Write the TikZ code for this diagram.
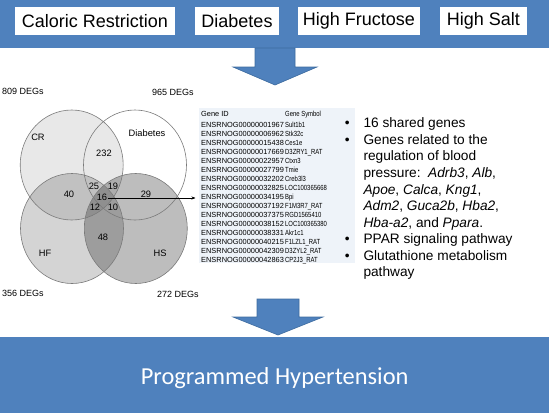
\documentclass[tikz,border=0pt]{standalone}
\usepackage{fontspec}
\setmainfont{Liberation Sans}
\newfontfamily\carlito{Carlito}
\usetikzlibrary{arrows.meta}
\definecolor{pptblue}{HTML}{4F81BD}
\definecolor{pptedge}{HTML}{3D6B9F}
\definecolor{tablebg}{HTML}{EEF3F9}
\definecolor{venn}{HTML}{7A7A7A}
\tikzset{
  banner/.style={fill=pptblue, inner sep=0, minimum width=549, minimum height=48},
  topbox/.style={fill=white, inner sep=0, minimum height=28, font=\fontsize{18}{20}\selectfont},
  blockarrow/.style={fill=pptblue, draw=pptedge, line width=0.6pt, line join=miter},
  vennline/.style={draw=venn, line width=0.6pt},
  vennnum/.style={inner sep=0, font=\fontsize{9.3}{10}\selectfont},
  deglabel/.style={inner sep=0, anchor=west, font=\fontsize{9}{10}\selectfont},
  idtext/.style={inner sep=0, anchor=base west, font=\fontsize{7.4}{8}\selectfont},
  bullettext/.style={inner sep=0, anchor=base west, font=\fontsize{13.7}{15}\selectfont},
  bulletdot/.style={inner sep=0, anchor=base, font=\fontsize{13.7}{15}\selectfont},
}
\begin{document}
\begin{tikzpicture}[x=1pt,y=-1pt]
\useasboundingbox (0,0) rectangle (550,413);

% top banner
\node[banner] (topbanner) at (274.5,24) {};
\node[topbox, minimum width=160] (cr) at (95,21) {Caloric Restriction};
\node[topbox, minimum width=84] (dia) at (237,21) {Diabetes};
\node[topbox, minimum width=122] (hfb) at (359,21) {High Fructose};
\node[topbox, minimum width=87] (hsb) at (483.5,21) {High Salt};

% top block arrow
\draw[blockarrow] (255,48) -- (255,67) -- (233,67) -- (275,85) -- (317,67) -- (295,67) -- (295,48) -- cycle;

% Venn diagram
\fill[black, fill opacity=0.09] (71.7,165) ellipse [x radius=51.5pt, y radius=55pt];
\fill[black, fill opacity=0.17] (72,228.5) ellipse [x radius=51.5pt, y radius=55pt];
\fill[black, fill opacity=0.26] (135.8,228.5) ellipse [x radius=51.5pt, y radius=55pt];
\draw[vennline] (71.7,165) ellipse [x radius=51.5pt, y radius=55pt];
\draw[vennline] (135,165) ellipse [x radius=51.5pt, y radius=55pt];
\draw[vennline] (72,228.5) ellipse [x radius=51.5pt, y radius=55pt];
\draw[vennline] (135.8,228.5) ellipse [x radius=51.5pt, y radius=55pt];

\node[vennnum] (lcr) at (38,137) {CR};
\node[vennnum] (ldia) at (147,133) {Diabetes};
\node[vennnum] (lhf) at (45,253) {HF};
\node[vennnum] (lhs) at (160,253) {HS};
\node[vennnum] (n232) at (104,153) {232};
\node[vennnum] (n40) at (69,194) {40};
\node[vennnum] (n25) at (94,186) {25};
\node[vennnum] (n19) at (113,186) {19};
\node[vennnum] (n16) at (102,197) {16};
\node[vennnum] (n29) at (146,194) {29};
\node[vennnum] (n12) at (95,207) {12};
\node[vennnum] (n10) at (113,207) {10};
\node[vennnum] (n48) at (103,237) {48};

\node[deglabel] (d809) at (2,91.5) {809 DEGs};
\node[deglabel] (d965) at (152,92.5) {965 DEGs};
\node[deglabel] (d356) at (2,293) {356 DEGs};
\node[deglabel] (d272) at (157,294) {272 DEGs};

% gene table
\node[fill=tablebg, inner sep=0, minimum width=156, minimum height=155] (table) at (277,185.5) {};
\node[idtext] (hid) at (201,116) {Gene ID};
\node[idtext] (hsym) at (285,116) {\scalebox{0.8}[1]{Gene Symbol}};
\foreach \gid/\gsym [count=\i from 0] in {
  ENSRNOG00000001967/Sult1b1,
  ENSRNOG00000006962/Stk32c,
  ENSRNOG00000015438/Ces1e,
  ENSRNOG00000017669/D3ZRY1\_RAT,
  ENSRNOG00000022957/Ctxn3,
  ENSRNOG00000027799/Tmie,
  ENSRNOG00000032202/Creb3l3,
  ENSRNOG00000032825/LOC100365668,
  ENSRNOG00000034195/Bpi,
  ENSRNOG00000037192/F1M3R7\_RAT,
  ENSRNOG00000037375/RGD1565410,
  ENSRNOG00000038152/LOC100365380,
  ENSRNOG00000038331/Akr1c1,
  ENSRNOG00000040215/F1LZL1\_RAT,
  ENSRNOG00000042309/D3ZYL2\_RAT,
  ENSRNOG00000042863/CP2J3\_RAT}{
  \node[idtext] (id\i) at (201,127+9*\i) {\gid};
  \node[idtext] (sym\i) at (285,127+9*\i) {\scalebox{0.8}[1]{\gsym}};
}

% arrow from the 16 shared genes to the table
\coordinate (arrstart) at (108,198);
\coordinate (arrtip) at (195.5,198);
\draw[line width=0.5pt, -{Stealth[length=4pt,width=3pt]}] (arrstart) -- (arrtip);

% bullet list
\foreach \yy in {127.7,144.3,243.6,260.2}{
  \node[bulletdot] at (347.3,\yy) {\textbullet};
}
\node[bullettext] (b1) at (363.3,127.7) {16 shared genes};
\node[bullettext] (b2) at (363.3,144.3) {Genes related to the};
\node[bullettext] (b2b) at (363.3,160.8) {regulation of blood};
\node[bullettext] (b2c) at (363.3,177.4) {pressure:\ \ \textit{Adrb3}, \textit{Alb},};
\node[bullettext] (b2d) at (363.3,194) {\textit{Apoe}, \textit{Calca}, \textit{Kng1},};
\node[bullettext] (b2e) at (363.3,210.5) {\textit{Adm2}, \textit{Guca2b}, \textit{Hba2},};
\node[bullettext] (b2f) at (363.3,227) {\textit{Hba-a2}, and \textit{Ppara}.};
\node[bullettext] (b3) at (363.3,243.6) {PPAR signaling pathway};
\node[bullettext] (b4) at (363.3,260.2) {Glutathione metabolism};
\node[bullettext] (b4b) at (363.3,276.7) {pathway};

% bottom block arrow
\draw[blockarrow] (257,299) -- (299,299) -- (299,317) -- (323,317) -- (278,335) -- (233,317) -- (257,317) -- cycle;

% bottom banner
\node[banner, minimum height=76] (botbanner) at (274.5,375) {};
\node[inner sep=0, text=white, font=\carlito\fontsize{24.4}{26}\selectfont] (ph) at (274.6,378) {Programmed Hypertension};
\end{tikzpicture}
\end{document}
